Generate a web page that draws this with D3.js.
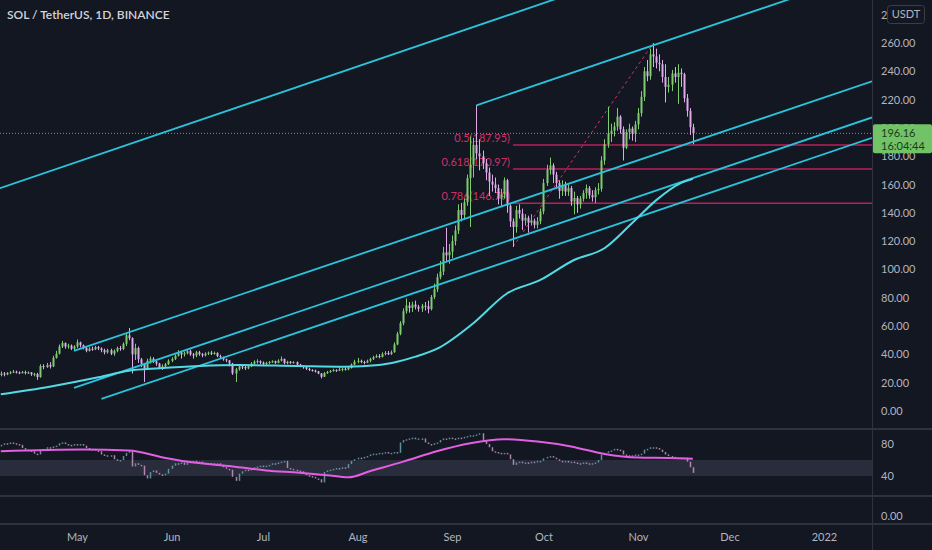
<!DOCTYPE html>
<html>
<head>
<meta charset="utf-8">
<script src="https://cdn.jsdelivr.net/npm/d3@7"></script>
<style>
  html, body { margin: 0; padding: 0; background: #131722; }
  svg { display: block; }
</style>
</head>
<body>
<svg id="chart"></svg>
<script>
// ── data (daily candles from 2021-04-06, open = previous close) ──────────
const startDate = '2021-04-06';
const firstOpen = 25.5;

const closes = [
  // Apr 6-30
  26.5, 25.8, 26.8, 27.3, 27.8, 27.2, 26.9, 27.5, 26.8, 27.2, 26.0, 26.2, 24.0, 31.8, 31.0, 32.5, 31.5, 37.5, 40.5, 45.5, 48.0, 45.5, 46.2, 44.0, 45.5,
  // May
  48.5, 46.5, 44.5, 42.5, 44.0, 43.5, 45.2, 44.2, 43.0, 41.5, 43.0, 40.5, 42.5, 44.5, 43.8, 47.5, 53.5, 51.5, 40.0, 44.5, 36.5, 33.5, 30.0, 35.5, 37.0, 35.0, 33.5, 30.5, 31.5, 33.0, 35.5,
  // Jun
  36.8, 39.0, 41.5, 40.0, 40.8, 42.3, 40.0, 39.2, 41.5, 40.2, 39.3, 40.5, 41.2, 40.3, 41.0, 38.8, 38.0, 36.5, 35.8, 33.5, 26.5, 29.5, 31.5, 31.0, 30.2, 31.5, 33.5, 34.8, 35.2, 34.2,
  // Jul
  33.2, 34.0, 34.6, 35.2, 34.0, 35.6, 36.8, 33.8, 34.8, 34.0, 34.5, 32.8, 31.8, 31.0, 29.8, 29.0, 28.5, 28.0, 26.5, 24.2, 26.8, 27.6, 28.3, 28.9, 28.5, 29.3, 29.8, 29.3, 30.5, 32.8, 34.8,
  // Aug
  35.5, 34.6, 34.2, 35.5, 36.8, 38.0, 38.8, 38.2, 40.2, 41.0, 40.2, 41.5, 47.0, 54.5, 62.0, 70.5, 74.5, 72.8, 75.2, 73.6, 72.3, 74.4, 74.0, 72.0, 80.5, 86.0, 94.5, 98.5, 112.0, 110.0, 112.5,
  // Sep
  120.0, 127.5, 142.0, 138.5, 147.5, 164.5, 174.0, 188.0, 182.0, 180.0, 175.0, 168.5, 162.0, 160.0, 157.5, 150.0, 153.0, 163.0, 145.0, 134.0, 130.0, 142.0, 139.5, 134.5, 136.5, 133.0, 134.5, 131.5, 134.0, 141.0,
  // Oct
  161.0, 170.5, 173.5, 167.0, 161.0, 155.5, 159.5, 155.0, 157.5, 148.0, 150.5, 146.0, 150.0, 154.0, 157.5, 152.5, 151.0, 156.0, 157.0, 177.0, 188.5, 196.0, 198.0, 201.0, 208.0, 199.0, 186.0, 197.0, 199.5, 196.0, 202.5,
  // Nov 1-19
  210.5, 222.0, 240.0, 236.5, 252.0, 250.5, 246.0, 245.0, 236.0, 229.0, 230.5, 238.5, 236.0, 239.0, 238.0, 221.0, 212.0, 200.5, 196.16
];

const highs = [
  28.0, 27.5, 27.5, 28.2, 29.0, 28.5, 28.0, 28.3, 28.5, 28.0, 27.5, 27.0, 27.0, 33.0, 33.0, 34.0, 34.5, 39.0, 42.5, 47.0, 49.5, 48.5, 47.5, 47.0, 46.5,
  50.5, 49.0, 47.0, 45.5, 45.0, 45.5, 46.0, 46.0, 45.0, 44.0, 44.0, 44.0, 43.5, 45.5, 46.0, 48.5, 55.0, 58.7, 52.0, 47.5, 45.5, 37.5, 34.0, 37.0, 38.5, 38.0, 35.5, 34.0, 33.0, 34.0, 36.5,
  38.0, 40.0, 43.0, 42.5, 42.0, 43.5, 43.5, 41.0, 42.5, 42.5, 41.0, 41.5, 42.0, 42.5, 42.0, 41.5, 39.8, 38.5, 37.0, 36.0, 34.0, 30.5, 33.0, 33.0, 32.5, 32.5, 34.5, 35.8, 36.5, 35.8,
  35.0, 34.8, 35.3, 35.8, 35.6, 36.5, 38.5, 37.0, 35.5, 35.3, 35.2, 35.0, 33.3, 32.3, 31.5, 30.5, 29.5, 29.2, 28.3, 26.8, 27.5, 28.3, 29.0, 29.8, 29.5, 31.0, 30.5, 30.6, 31.0, 33.6, 36.2,
  37.5, 36.3, 35.5, 36.3, 37.6, 39.0, 40.0, 40.2, 41.5, 42.3, 42.4, 42.8, 48.5, 56.0, 63.5, 72.5, 79.5, 77.0, 77.2, 78.0, 75.0, 75.7, 77.0, 78.0, 82.0, 90.0, 97.0, 106.0, 116.0, 129.5, 118.0,
  124, 131, 146, 147, 150, 167, 194, 193, 216, 192, 184, 178, 172, 167, 165, 160, 157, 165, 164, 146, 136, 145, 146, 143, 139, 138, 139, 136, 137, 143,
  164, 174, 179, 175, 169, 163, 163, 162, 160, 159, 155, 152, 152, 156, 160, 159, 156, 158, 161, 180, 192, 215, 203, 204, 214, 209, 201, 199, 203, 201, 205,
  214, 226, 243, 248, 256, 259.9, 256, 252, 248, 245, 236, 241, 243, 245, 242, 239, 224, 214, 203
];

const lows = [
  24.5, 24.5, 25.3, 26.0, 26.8, 26.5, 26.0, 26.5, 25.8, 26.2, 24.8, 24.5, 22.0, 23.5, 29.5, 30.5, 30.0, 31.0, 37.0, 40.0, 44.5, 44.0, 44.0, 43.0, 43.0,
  44.5, 45.0, 43.5, 41.5, 42.0, 42.5, 43.0, 43.0, 41.5, 40.0, 40.5, 39.5, 39.0, 41.5, 42.5, 43.0, 46.0, 50.0, 26.5, 36.0, 34.0, 31.0, 20.5, 29.5, 33.5, 34.0, 32.0, 29.5, 29.0, 30.5, 32.5,
  34.5, 36.0, 38.5, 37.0, 38.5, 40.0, 39.0, 37.0, 38.0, 39.0, 38.0, 38.5, 39.5, 39.5, 39.8, 38.0, 37.0, 35.5, 34.5, 31.5, 25.5, 20.5, 28.5, 29.5, 29.0, 29.5, 31.0, 32.8, 33.5, 33.0,
  32.5, 32.5, 33.2, 34.0, 33.3, 33.7, 35.0, 33.0, 33.0, 33.3, 33.5, 32.2, 31.0, 29.8, 29.0, 28.2, 27.8, 27.2, 26.0, 23.0, 24.0, 26.2, 27.0, 27.8, 27.6, 28.2, 28.0, 28.6, 28.8, 30.0, 32.3,
  33.8, 33.8, 33.0, 33.8, 34.4, 36.0, 37.5, 37.2, 37.8, 39.3, 39.5, 39.6, 41.2, 46.5, 53.5, 60.5, 68.8, 69.5, 70.0, 71.8, 70.2, 70.0, 71.0, 69.0, 71.0, 79.0, 84.0, 93.0, 96.0, 106.0, 104.0,
  108, 117, 125, 134, 135, 145, 130, 165, 178, 170, 171, 163, 152, 155, 154, 146, 144, 150, 140, 130, 116, 126, 136, 128, 131, 126, 131, 129, 129, 132,
  139, 159, 167, 161, 157, 150, 152, 152, 152, 145, 139, 140, 143, 148, 150, 150, 148, 147, 153, 155, 174, 186, 190, 194, 198, 196, 177, 185, 192, 191, 190,
  199, 208, 219, 233, 234, 243, 242, 240, 232, 218, 225, 226, 232, 217, 229, 218, 208, 195, 188.5
];

// RSI per day (same dates as candles)
const rsiValues = [
  78, 80, 79, 81, 80, 79, 78, 74, 72, 71, 70, 67, 66, 72, 73, 75, 74, 76, 77, 80, 81, 79, 78, 77, 79,
  78, 79, 77, 74, 72, 73, 71, 70, 66, 65, 64, 65, 60, 58, 59, 64, 68, 71, 51, 55, 53, 52, 40, 36, 44, 46, 43, 41, 40, 42, 48,
  52, 55, 54, 56, 53, 57, 55, 58, 56, 57, 54, 55, 53, 55, 54, 55, 53, 50, 48, 47, 38, 33, 42, 45, 47, 46, 48, 50, 51, 52,
  51, 52, 53, 55, 54, 56, 57, 58, 49, 48, 47, 46, 45, 42, 40, 39, 38, 36, 35, 31, 44, 46, 47, 48, 49, 48, 50, 49, 54, 58, 60,
  62, 61, 63, 64, 66, 67, 67, 68, 68, 69, 67, 68, 69, 68, 81, 84, 85, 86, 87, 85, 86, 86, 81, 79, 78, 80, 81, 84, 86, 85, 87,
  86, 85, 87, 86, 88, 89, 90, 90, 91, 92.5, 83, 79, 75, 70, 69, 68, 67, 68, 66, 60, 53, 56, 57, 55, 56, 55, 57, 56, 58, 58,
  61, 63, 64, 62, 60, 58, 57, 58, 56, 57, 56, 55, 54, 56, 55, 54, 55, 56, 59, 66, 68, 70, 71, 73, 72, 71, 66, 65, 64, 65, 66,
  66, 67, 72, 73, 75, 75, 74, 72, 69, 66, 64, 63, 62, 62, 61, 62, 57, 50, 43
];

// 100-day moving average of price
const maDates = ['2021-04-06', '2021-04-22', '2021-05-08', '2021-05-18', '2021-05-28', '2021-06-10', '2021-06-23',
  '2021-07-12', '2021-07-28', '2021-08-08', '2021-08-14', '2021-08-20', '2021-08-28', '2021-09-08', '2021-09-19',
  '2021-09-30', '2021-10-11', '2021-10-21', '2021-10-30', '2021-11-07', '2021-11-15', '2021-11-19'];
const maValues = [11.8, 17.2, 23.8, 28.5, 30.2, 31.8, 32.5, 31.8, 31.3, 32.5, 34.8, 38.4, 45, 62, 83, 92.6, 106.7, 115, 132.6, 149, 161, 164];

// smoothed RSI line
const rsiMaDates = ['2021-04-06', '2021-05-03', '2021-05-18', '2021-05-30', '2021-06-06', '2021-06-21', '2021-07-02',
  '2021-07-13', '2021-07-22', '2021-07-29', '2021-08-05', '2021-08-16', '2021-08-27', '2021-09-07', '2021-09-18',
  '2021-09-29', '2021-10-10', '2021-10-21', '2021-11-01', '2021-11-11', '2021-11-19'];
const rsiMaValues = [71, 73, 72, 62.5, 58, 52, 47, 44, 41, 38.3, 46, 58, 71, 81, 86, 83, 77, 67.5, 63, 62.5, 61.7];

// drawn trend lines [date, price]
const channelLines = [
  { from: ['2021-04-06', 157.6], to: ['2021-08-15', 253.7], extendLeft: true },
  { from: ['2021-04-30', 42.5],  to: ['2021-10-03', 156.0] },
  { from: ['2021-09-09', 216.0], to: ['2021-11-01', 254.7] },
  { from: ['2021-04-30', 16.3],  to: ['2021-10-03', 130.2] },
  { from: ['2021-05-09', 8.5],   to: ['2021-10-03', 115.8] },
];

const fibLow = ['2021-09-21', 116.0];
const fibHigh = ['2021-11-06', 259.9];
const fibLevels = [0.5, 0.618, 0.786];

const priceTicks = [0, 20, 40, 60, 80, 100, 120, 140, 160, 180, 200, 220, 240, 260, 280];
const rsiTicks = [40, 80];
const monthTicks = [
  ['2021-05-01', 'May'], ['2021-06-01', 'Jun'], ['2021-07-01', 'Jul'], ['2021-08-01', 'Aug'],
  ['2021-09-01', 'Sep'], ['2021-10-01', 'Oct'], ['2021-11-01', 'Nov'], ['2021-12-01', 'Dec'], ['2022-01-01', '2022']
];
const title = 'SOL / TetherUS, 1D, BINANCE';
const currency = 'USDT';
const countdown = '16:04:44';

// ── layout ──────────────────────────────────────────────
const W = 932, H = 550;
const PLOT_R = 872;          // price axis starts here
const MAIN_B = 428;          // bottom of price pane
const RSI_T = 430, RSI_B = 496, EMPTY_B = 524;

const BG = '#131722', AXIS_TXT = '#b2b5be', SEP = '#2e323d';
const UP = '#7fcb6e', DOWN = '#deaae8';
const CYAN = '#2ac3dc', MA_COL = '#52dbe6', FIB = '#d0306a', FIB_LINE = '#b81f5a';
const FONT = 'Lato, "Noto Sans", sans-serif';

const parse = d3.utcParse('%Y-%m-%d');
const day0 = parse(startDate);

const candles = closes.map((c, i) => {
  const o = i === 0 ? firstOpen : closes[i - 1];
  return {
    date: d3.utcDay.offset(day0, i),
    o, c,
    h: Math.max(highs[i], o, c),
    l: Math.min(lows[i], o, c),
    rsi: rsiValues[i],
    rsiPrev: i === 0 ? rsiValues[0] : rsiValues[i - 1],
  };
});

const x = d3.scaleUtc()
  .domain([parse('2021-05-01'), parse('2021-11-01')])
  .range([77, 638]);
const y = d3.scaleLinear().domain([0, 260]).range([411, 43]);
const yr = d3.scaleLinear().domain([40, 80]).range([476, 444]);

const svg = d3.select('#chart').attr('width', W).attr('height', H)
  .style('font-family', FONT);

svg.append('rect').attr('width', W).attr('height', H).attr('fill', BG);

const defs = svg.append('defs');
defs.append('clipPath').attr('id', 'clipMain')
  .append('rect').attr('x', 0).attr('y', 0).attr('width', PLOT_R).attr('height', MAIN_B);
defs.append('clipPath').attr('id', 'clipRsi')
  .append('rect').attr('x', 0).attr('y', RSI_T).attr('width', PLOT_R).attr('height', RSI_B - RSI_T);

// ── main pane ───────────────────────────────────────────
const main = svg.append('g').attr('clip-path', 'url(#clipMain)');

// current price dotted line
main.append('line')
  .attr('x1', 0).attr('x2', PLOT_R)
  .attr('y1', y(closes[closes.length - 1])).attr('y2', y(closes[closes.length - 1]))
  .attr('stroke', '#8a8d96').attr('stroke-width', 1).attr('stroke-dasharray', '1,2');

// fib retracement (behind candles)
const fx1 = x(parse(fibLow[0])), fx2 = x(parse(fibHigh[0]));
const range = fibHigh[1] - fibLow[1];
main.append('line')
  .attr('x1', fx1).attr('y1', y(fibLow[1]))
  .attr('x2', fx2).attr('y2', y(fibHigh[1]))
  .attr('stroke', FIB).attr('stroke-width', 1).attr('stroke-dasharray', '3,3');

const fibG = main.append('g').selectAll('g').data(fibLevels).join('g');
fibG.append('line')
  .attr('x1', fx1).attr('x2', PLOT_R)
  .attr('y1', d => y(fibHigh[1] - d * range))
  .attr('y2', d => y(fibHigh[1] - d * range))
  .attr('stroke', FIB_LINE).attr('stroke-width', 1.5);
fibG.append('text')
  .attr('x', fx1 - 3)
  .attr('y', d => y(fibHigh[1] - d * range) - 3)
  .attr('text-anchor', 'end')
  .attr('fill', FIB).attr('font-size', 11)
  .text(d => `${d}(${(fibHigh[1] - d * range).toFixed(2)})`);

// candles
const cg = main.append('g').selectAll('g').data(candles).join('g');
cg.append('line')
  .attr('x1', d => Math.round(x(d.date)) + 0.5).attr('x2', d => Math.round(x(d.date)) + 0.5)
  .attr('y1', d => y(d.h)).attr('y2', d => y(d.l))
  .attr('stroke', d => d.c >= d.o ? UP : DOWN).attr('stroke-width', 1);
cg.append('rect')
  .attr('x', d => Math.round(x(d.date)) - 0.5)
  .attr('width', 2)
  .attr('y', d => y(Math.max(d.o, d.c)))
  .attr('height', d => Math.max(1, Math.abs(y(d.o) - y(d.c))))
  .attr('fill', d => d.c >= d.o ? UP : DOWN);

// channel / trend lines
function segment(l) {
  const x1 = x(parse(l.from[0])), y1 = y(l.from[1]);
  const x2 = x(parse(l.to[0])), y2 = y(l.to[1]);
  const k = (y2 - y1) / (x2 - x1);
  const xs = l.extendLeft ? 0 : x1;
  return [xs, y1 + k * (xs - x1), PLOT_R, y1 + k * (PLOT_R - x1)];
}
main.append('g').selectAll('line').data(channelLines.map(segment)).join('line')
  .attr('x1', d => d[0]).attr('y1', d => d[1])
  .attr('x2', d => d[2]).attr('y2', d => d[3])
  .attr('stroke', CYAN).attr('stroke-width', 1.8);

// price moving average
main.append('path')
  .datum(maDates.map((d, i) => [parse(d), maValues[i]]))
  .attr('fill', 'none').attr('stroke', MA_COL).attr('stroke-width', 2)
  .attr('d', d3.line().x(d => x(d[0])).y(d => y(d[1])).curve(d3.curveMonotoneX));

// ── RSI pane ────────────────────────────────────────────
const rsiG = svg.append('g').attr('clip-path', 'url(#clipRsi)');
rsiG.append('rect')
  .attr('x', 0).attr('width', PLOT_R)
  .attr('y', yr(60)).attr('height', yr(40) - yr(60))
  .attr('fill', 'rgba(150,150,185,0.17)');

rsiG.append('g').selectAll('rect').data(candles).join('rect')
  .attr('x', d => Math.round(x(d.date)) - 0.25)
  .attr('width', 1.5)
  .attr('y', d => yr(Math.max(d.rsi, d.rsiPrev)) - 0.75)
  .attr('height', d => Math.max(1.5, Math.abs(yr(d.rsi) - yr(d.rsiPrev))))
  .attr('fill', d => d.rsi >= d.rsiPrev ? '#6aa4ab' : '#c996c6')
  .attr('opacity', 0.85);

rsiG.append('path')
  .datum(rsiMaDates.map((d, i) => [parse(d), rsiMaValues[i]]))
  .attr('fill', 'none').attr('stroke', '#e35ee3').attr('stroke-width', 2)
  .attr('d', d3.line().x(d => x(d[0])).y(d => yr(d[1])).curve(d3.curveMonotoneX));

// ── separators ──────────────────────────────────────────
[MAIN_B + 1, RSI_B, EMPTY_B].forEach(yy => {
  svg.append('line').attr('x1', 0).attr('x2', W).attr('y1', yy).attr('y2', yy)
    .attr('stroke', SEP).attr('stroke-width', 2);
});
svg.append('line').attr('x1', PLOT_R + 0.5).attr('x2', PLOT_R + 0.5).attr('y1', 0).attr('y2', H)
  .attr('stroke', SEP).attr('stroke-width', 1);

// ── axes ────────────────────────────────────────────────
const yAxis = svg.append('g').attr('transform', `translate(${PLOT_R},0)`)
  .call(d3.axisRight(y).tickValues(priceTicks).tickSize(0).tickPadding(9).tickFormat(d3.format('.2f')));
yAxis.select('.domain').remove();
yAxis.selectAll('text').attr('fill', AXIS_TXT).attr('font-size', 11).attr('font-family', FONT);

const rAxis = svg.append('g').attr('transform', `translate(${PLOT_R},0)`)
  .call(d3.axisRight(yr).tickValues(rsiTicks).tickSize(0).tickPadding(9).tickFormat(d3.format('d')));
rAxis.select('.domain').remove();
rAxis.selectAll('text').attr('fill', AXIS_TXT).attr('font-size', 11).attr('font-family', FONT);

svg.append('text').attr('x', PLOT_R + 9).attr('y', 520)
  .attr('fill', AXIS_TXT).attr('font-size', 11).text('0.00');

const xAxis = svg.append('g').attr('transform', `translate(0,${EMPTY_B + 6})`)
  .call(d3.axisBottom(x).tickValues(monthTicks.map(m => parse(m[0])))
    .tickSize(0).tickFormat((d, i) => monthTicks[i][1]));
xAxis.select('.domain').remove();
xAxis.selectAll('text').attr('fill', AXIS_TXT).attr('font-size', 11).attr('font-family', FONT);

// currency badge (covers top tick)
svg.append('rect').attr('x', 887.5).attr('y', 5.5).attr('width', 37).attr('height', 18).attr('rx', 3)
  .attr('fill', BG).attr('stroke', '#3a3e49');
svg.append('text').attr('x', 906).attr('y', 18).attr('text-anchor', 'middle')
  .attr('fill', AXIS_TXT).attr('font-size', 11).text(currency);

// last price tag
const lastY = y(closes[closes.length - 1]);
svg.append('rect').attr('x', PLOT_R + 1).attr('y', lastY - 9).attr('width', W - PLOT_R - 1).attr('height', 29)
  .attr('rx', 2).attr('fill', '#72c267');
svg.append('text').attr('x', PLOT_R + 9).attr('y', lastY + 4)
  .attr('fill', '#173f17').attr('font-size', 11).text(closes[closes.length - 1].toFixed(2));
svg.append('text').attr('x', PLOT_R + 9).attr('y', lastY + 17)
  .attr('fill', '#173f17').attr('font-size', 11).text(countdown);

// title
svg.append('text').attr('x', 7).attr('y', 19)
  .attr('fill', '#d1d4dc').attr('font-size', 12).attr('font-weight', 600).text(title);
</script>
</body>
</html>
